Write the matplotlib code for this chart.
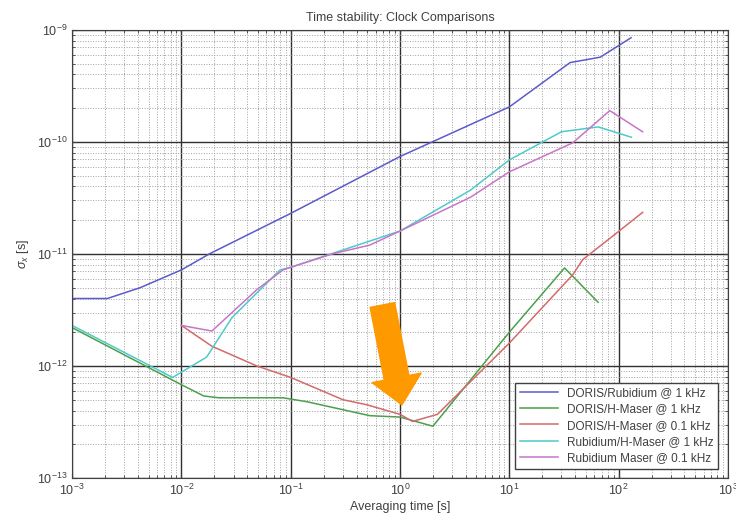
import matplotlib.pyplot as plt
import numpy as np

plt.rcParams['font.family'] = ['Liberation Sans', 'DejaVu Sans']
plt.rcParams['mathtext.fontset'] = 'custom'
plt.rcParams['mathtext.rm'] = 'Liberation Sans'
plt.rcParams['mathtext.it'] = 'Liberation Sans:italic'

# averaging time [s] and sigma_x [s]
doris_rb_x = [1e-3, 2.1e-3, 4.2e-3, 1e-2, 1.8e-2, 1e-1, 1.0, 10, 36, 68, 130]
doris_rb_y = [4.0e-12, 4.0e-12, 5.0e-12, 7.2e-12, 1.0e-11, 2.3e-11, 7.4e-11,
              2.05e-10, 5.1e-10, 5.7e-10, 8.5e-10]

doris_hm_x = [1e-3, 1e-2, 0.016, 0.022, 0.085, 0.14, 0.53, 1.0, 2.0, 10, 32, 65]
doris_hm_y = [2.2e-12, 6.8e-13, 5.4e-13, 5.2e-13, 5.2e-13, 4.8e-13, 3.6e-13,
              3.5e-13, 2.9e-13, 2.0e-12, 7.5e-12, 3.7e-12]

doris_hm01_x = [1e-2, 0.019, 0.049, 0.1, 0.3, 0.5, 1.0, 1.3, 2.2, 10, 38, 47,
                93, 166]
doris_hm01_y = [2.3e-12, 1.5e-12, 1.0e-12, 7.9e-13, 5.0e-13, 4.5e-13, 3.7e-13,
                3.2e-13, 3.7e-13, 1.6e-12, 6.5e-12, 8.9e-12, 1.5e-11, 2.35e-11]

rb_hm_x = [1e-3, 8.3e-3, 0.017, 0.029, 0.08, 0.1, 1.0, 4.4, 10, 30, 65, 131]
rb_hm_y = [2.3e-12, 7.9e-13, 1.2e-12, 2.7e-12, 7.2e-12, 7.6e-12, 1.6e-11,
           3.7e-11, 6.9e-11, 1.23e-10, 1.36e-10, 1.1e-10]

rb_m01_x = [1e-2, 0.019, 0.049, 0.085, 0.1, 0.24, 0.53, 1.0, 4.4, 10, 38, 83,
            166]
rb_m01_y = [2.3e-12, 2.05e-12, 4.8e-12, 7.2e-12, 7.6e-12, 1.0e-11, 1.2e-11,
            1.6e-11, 3.2e-11, 5.4e-11, 9.8e-11, 1.9e-10, 1.23e-10]

labels = ['DORIS/Rubidium @ 1 kHz', 'DORIS/H-Maser @ 1 kHz',
          'DORIS/H-Maser @ 0.1 kHz', 'Rubidium/H-Maser @ 1 kHz',
          'Rubidium Maser @ 0.1 kHz']

arrow_tail = (0.69, 3.5e-12)
arrow_tip = (1.04, 4.5e-13)

fig = plt.figure(figsize=(7.36, 5.23), dpi=100)
ax = fig.add_axes([0.098, 0.086, 0.891, 0.857])

series = [(doris_rb_x, doris_rb_y, '#5b5bc9'),
          (doris_hm_x, doris_hm_y, '#4c9f4c'),
          (doris_hm01_x, doris_hm01_y, '#d46a6a'),
          (rb_hm_x, rb_hm_y, '#4fc9c9'),
          (rb_m01_x, rb_m01_y, '#c875c8')]
for (x, y, c), lab in zip(series, labels):
    ax.loglog(x, y, color=c, lw=1.1, label=lab)

ax.set_xlim(1e-3, 1e3)
ax.set_ylim(1e-13, 1e-9)
ax.grid(True, which='major', color='#303030', lw=1.0, ls='-')
ax.grid(True, which='minor', color='#a0a0a0', lw=0.7, ls=':')
ax.tick_params(which='both', direction='in', top=True, right=True,
               labelsize=9, labelcolor='#404040', color='#404040')
for s in ax.spines.values():
    s.set_color('#404040')

ax.set_title('Time stability: Clock Comparisons', fontsize=9, color='#404040',
             pad=6)
ax.set_xlabel('Averaging time [s]', fontsize=9, color='#404040', labelpad=2)
ax.set_ylabel(r'$\sigma_x$ [s]', fontsize=9, color='#404040', labelpad=4)

leg = ax.legend(loc='lower right', fontsize=8.5, fancybox=False,
                framealpha=1, edgecolor='#404040', handlelength=3.2,
                borderaxespad=0.8, labelspacing=0.35)
for t in leg.get_texts():
    t.set_color('#404040')

ax.annotate('', xy=arrow_tip, xytext=arrow_tail,
            arrowprops=dict(arrowstyle='simple,head_length=1.1,head_width=2.0,'
                                       'tail_width=1.0',
                            color='#ff9900', mutation_scale=18,
                            shrinkA=0, shrinkB=0))

fig.savefig('out.png', dpi=100)
